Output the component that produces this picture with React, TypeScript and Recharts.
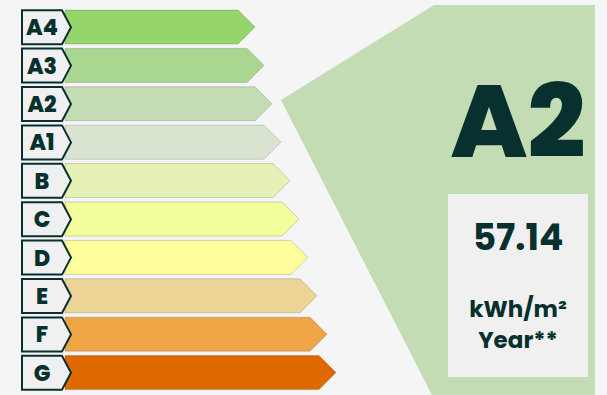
import React from 'react';
import { BarChart, Bar, XAxis, YAxis, Cell, Customized } from 'recharts';

const classes = ['A4', 'A3', 'A2', 'A1', 'B', 'C', 'D', 'E', 'F', 'G'];
const barLengths = [190, 199, 207, 216, 225, 234, 243, 252, 262, 271];
const barColors = ['#96d46c', '#a9d690', '#c4dcb4', '#d9e4d0', '#e6f1b5', '#f4fd9c', '#fdfd9a', '#ecd396', '#efa546', '#e06800'];

const currentClass = 'A2';
const consumption = '57.14';
const unitLine1 = 'kWh/m²';
const unitLine2 = 'Year**';

const data = classes.map((name, i) => ({ name, value: barLengths[i] }));

const DARK = '#08302e';
const FONT = 'Poppins, Inter, "Noto Sans", sans-serif';

function ArrowBar(props: any) {
  const { x, y, width, height, fill } = props;
  const d = height / 2;
  const pts = [
    [x, y],
    [x + width - d, y],
    [x + width, y + height / 2],
    [x + width - d, y + height],
    [x, y + height],
  ]
    .map((p) => p.join(','))
    .join(' ');
  return <polygon points={pts} fill={fill} stroke="rgba(0,0,0,0.16)" strokeWidth={1} />;
}

function ClassTick(props: any) {
  const { y, payload } = props;
  const h = 34;
  const top = y - h / 2;
  const left = 22;
  const body = 62;
  const tip = 71;
  const pts = `${left},${top} ${body},${top} ${tip},${y} ${body},${top + h} ${left},${top + h}`;
  return (
    <g>
      <polygon points={pts} fill="#f0f0f0" stroke={DARK} strokeWidth={2} strokeLinejoin="miter" />
      <text
        x={42}
        y={y + 8}
        textAnchor="middle"
        fontFamily={FONT}
        fontWeight={800}
        fontSize={22}
        fill={DARK}
      >
        {payload.value}
      </text>
    </g>
  );
}

function Indicator() {
  const idx = classes.indexOf(currentClass);
  const color = barColors[idx];
  return (
    <g>
      <polygon points="281,100 434,5 595,5 595,395 432,395" fill={color} />
      <text x={518} y={157} textAnchor="middle" fontFamily={FONT} fontWeight={800} fontSize={102} fill={DARK}>
        {currentClass}
      </text>
      <rect x={448} y={194} width={140} height={183} fill="#f0f0f0" />
      <text x={518} y={250} textAnchor="middle" fontFamily={FONT} fontWeight={700} fontSize={36} fill={DARK}>
        {consumption}
      </text>
      <text x={518} y={317} textAnchor="middle" fontFamily={FONT} fontWeight={700} fontSize={23} fill={DARK}>
        {unitLine1}
      </text>
      <text x={518} y={348} textAnchor="middle" fontFamily={FONT} fontWeight={700} fontSize={23} fill={DARK}>
        {unitLine2}
      </text>
    </g>
  );
}

export default function App() {
  return (
    <div style={{ position: 'absolute', left: 0, top: 0, width: 607, height: 395, background: '#f5f5f5' }}>
      <BarChart
        width={607}
        height={395}
        data={data}
        layout="vertical"
        margin={{ top: 8, right: 242, bottom: 3, left: 0 }}
      >
        <XAxis type="number" domain={[0, 300]} hide />
        <YAxis
          type="category"
          dataKey="name"
          width={65}
          axisLine={false}
          tickLine={false}
          tick={<ClassTick />}
          interval={0}
        />
        <Bar dataKey="value" barSize={34} shape={<ArrowBar />} isAnimationActive={false}>
          {data.map((entry, i) => (
            <Cell key={entry.name} fill={barColors[i]} />
          ))}
        </Bar>
        <Customized component={Indicator} />
      </BarChart>
    </div>
  );
}
